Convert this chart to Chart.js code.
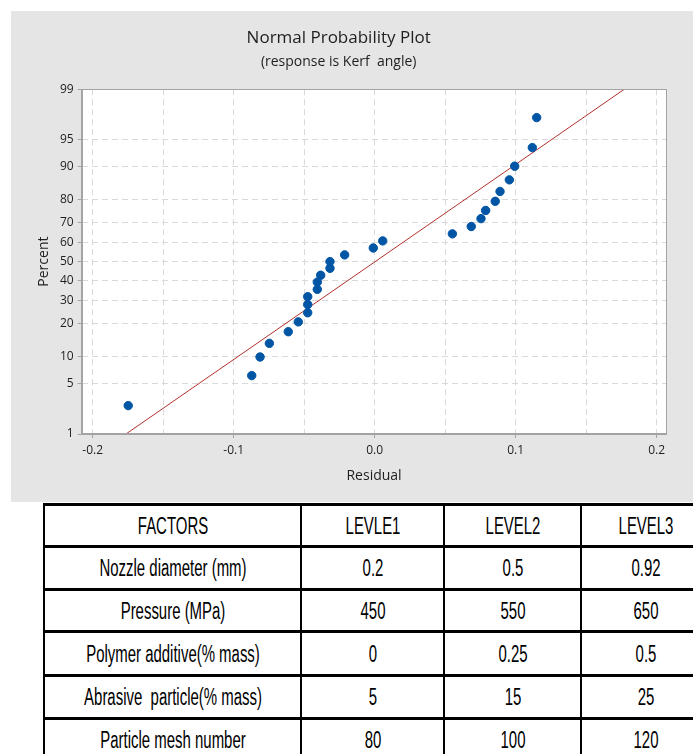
<!DOCTYPE html>
<html>
<head>
<meta charset="utf-8">
<script src="https://cdn.jsdelivr.net/npm/chart.js@4.4.0/dist/chart.umd.min.js"></script>
<style>
    html, body { margin: 0; padding: 0; background: #fff; width: 693px; height: 754px; overflow: hidden; }
    #panel { position: absolute; left: 11px; top: 11px; width: 682px; height: 491px; background: #e5e5e5; }
    #panel canvas { display: block; }
    #factorTable { position: absolute; left: 43px; top: 503px; width: 658px; border-collapse: collapse; table-layout: fixed; }
    #factorTable td {
        position: relative;
        border-left: 2px solid #000;
        border-right: 2px solid #000;
        border-top: 3px solid #000;
        border-bottom: 3px solid #000;
        padding: 0;
        font-family: "Liberation Sans", Arial, sans-serif;
        font-size: 23px;
        color: #000;
    }
    #factorTable td span {
        position: absolute;
        left: 50%;
        top: 50%;
        white-space: pre;
        transform: translate(-50%, -50%) scaleX(0.65);
    }
</style>
</head>
<body>
<div id="panel"><canvas id="probPlot" width="682" height="491"></canvas></div>
<table id="factorTable"></table>
<script>
// Normal probability plot of residuals (response is Kerf angle)
const residuals = [-0.1748, -0.0872, -0.0813, -0.0747, -0.0613, -0.0542, -0.0475, -0.0475, -0.0475,
    -0.0407, -0.0407, -0.0383, -0.0317, -0.0317, -0.0213, -0.0010, 0.0057, 0.0551,
    0.0685, 0.0754, 0.0787, 0.0855, 0.0889, 0.0955, 0.0993, 0.1118, 0.1149];
const percents = [2.6, 6.2, 9.9, 13.5, 17.2, 20.8, 24.5, 28.1, 31.8,
    35.4, 39.1, 42.7, 46.4, 50.0, 53.6, 57.3, 61.0, 64.6,
    68.2, 71.9, 75.5, 79.2, 82.8, 86.5, 90.1, 93.8, 97.4];

// fitted normal line, read at its two ends
const fitResiduals = [-0.1764, 0.1771];
const fitPercents = [1, 99];

const xTicks = [-0.2, -0.15, -0.1, -0.05, 0, 0.05, 0.1, 0.15, 0.2];
const xTickLabels = ['-0.2', '', '-0.1', '', '0.0', '', '0.1', '', '0.2'];
const yTickPercents = [1, 5, 10, 20, 30, 40, 50, 60, 70, 80, 90, 95, 99];

// table below the plot
const factors = ['Nozzle diameter (mm)', 'Pressure (MPa)', 'Polymer additive(% mass)', 'Abrasive  particle(% mass)', 'Particle mesh number'];
const level1 = ['0.2', '450', '0', '5', '80'];
const level2 = ['0.5', '550', '0.25', '15', '100'];
const level3 = ['0.92', '650', '0.5', '25', '120'];
const headers = ['FACTORS', 'LEVLE1', 'LEVEL2', 'LEVEL3'];

// inverse normal CDF (Acklam), used to put percents on a probability axis
function probit(p) {
    const a = [-3.969683028665376e+01, 2.209460984245205e+02, -2.759285104469687e+02, 1.383577518672690e+02, -3.066479806614716e+01, 2.506628277459239e+00];
    const b = [-5.447609879822406e+01, 1.615858368580409e+02, -1.556989798598866e+02, 6.680131188771972e+01, -1.328068155288572e+01];
    const c = [-7.784894002430293e-03, -3.223964580411365e-01, -2.400758277161838e+00, -2.549732539343734e+00, 4.374664141464968e+00, 2.938163982698783e+00];
    const d = [7.784695709041462e-03, 3.224671290700398e-01, 2.445134137142996e+00, 3.754408661907416e+00];
    const pl = 0.02425;
    let q, r;
    if (p < pl) {
        q = Math.sqrt(-2 * Math.log(p));
        return (((((c[0] * q + c[1]) * q + c[2]) * q + c[3]) * q + c[4]) * q + c[5]) /
            ((((d[0] * q + d[1]) * q + d[2]) * q + d[3]) * q + 1);
    }
    if (p > 1 - pl) {
        q = Math.sqrt(-2 * Math.log(1 - p));
        return -(((((c[0] * q + c[1]) * q + c[2]) * q + c[3]) * q + c[4]) * q + c[5]) /
            ((((d[0] * q + d[1]) * q + d[2]) * q + d[3]) * q + 1);
    }
    q = p - 0.5;
    r = q * q;
    return (((((a[0] * r + a[1]) * r + a[2]) * r + a[3]) * r + a[4]) * r + a[5]) * q /
        (((((b[0] * r + b[1]) * r + b[2]) * r + b[3]) * r + b[4]) * r + 1);
}

const FRAME = '#a3a3a3';
const TEXT = '#1e1e1e';

// white plot area and closed frame
const framePlugin = {
    id: 'frame',
    beforeDraw(chart) {
        const { ctx, chartArea: a } = chart;
        ctx.save();
        ctx.fillStyle = '#fff';
        ctx.fillRect(a.left, a.top, a.right - a.left, a.bottom - a.top);
        ctx.restore();
    },
    afterDraw(chart) {
        const { ctx, chartArea: a } = chart;
        ctx.save();
        ctx.strokeStyle = FRAME;
        ctx.lineWidth = 1;
        ctx.strokeRect(Math.round(a.left) + 0.5, Math.round(a.top) + 0.5,
            Math.round(a.right - a.left) - 1, Math.round(a.bottom - a.top) - 1);
        ctx.restore();
    }
};

new Chart(document.getElementById('probPlot'), {
    type: 'scatter',
    data: {
        datasets: [{
            label: 'Residuals',
            data: residuals.map((r, i) => ({ x: r, y: probit(percents[i] / 100) })),
            backgroundColor: '#0055a5',
            borderColor: '#0055a5',
            pointRadius: 4.2,
            pointHoverRadius: 4.2,
            order: 1
        }, {
            label: 'Fit',
            data: fitResiduals.map((r, i) => ({ x: r, y: probit(fitPercents[i] / 100) })),
            showLine: true,
            borderColor: '#b3302e',
            borderWidth: 1,
            pointRadius: 0,
            order: 2
        }]
    },
    options: {
        responsive: false,
        animation: false,
        devicePixelRatio: 1,
        layout: {
            padding: { left: 0, right: 26.6, top: 0, bottom: 0 }
        },
        plugins: {
            legend: { display: false },
            tooltip: { enabled: false },
            title: {
                display: true,
                text: 'Normal Probability Plot',
                color: TEXT,
                font: { family: 'Open Sans', size: 17, weight: 'normal' },
                padding: { top: 17, bottom: 2 }
            },
            subtitle: {
                display: true,
                text: '(response is Kerf  angle)',
                color: TEXT,
                font: { family: 'Open Sans', size: 14, weight: 'normal' },
                padding: { top: 3, bottom: 19 }
            }
        },
        scales: {
            x: {
                type: 'linear',
                min: -0.2078,
                max: 0.2069,
                afterBuildTicks: function (scale) {
                    scale.ticks = xTicks.map(v => ({ value: v }));
                },
                afterFit: function (scale) {
                    scale.height = 68;
                },
                ticks: {
                    autoSkip: false,
                    maxRotation: 0,
                    padding: 5,
                    color: TEXT,
                    font: { family: 'Open Sans', size: 12 },
                    callback: function (value, index) {
                        return xTickLabels[index];
                    }
                },
                grid: {
                    color: '#d9d9d9',
                    tickLength: 4,
                    tickColor: function (context) {
                        return xTickLabels[context.index] ? FRAME : 'rgba(0,0,0,0)';
                    }
                },
                border: { display: true, color: FRAME, dash: [6, 4] },
                title: {
                    display: true,
                    text: 'Residual',
                    color: TEXT,
                    font: { family: 'Open Sans', size: 14 },
                    padding: { top: 0, bottom: 17.6 }
                }
            },
            y: {
                type: 'linear',
                min: probit(0.01),
                max: probit(0.99),
                afterBuildTicks: function (scale) {
                    scale.ticks = yTickPercents.map(p => ({ value: probit(p / 100) }));
                },
                afterFit: function (scale) {
                    scale.width = 70.7;
                },
                ticks: {
                    autoSkip: false,
                    padding: 4,
                    color: TEXT,
                    font: { family: 'Open Sans', size: 12 },
                    callback: function (value, index) {
                        return String(yTickPercents[index]);
                    }
                },
                grid: {
                    color: '#d9d9d9',
                    tickLength: 4,
                    tickColor: FRAME
                },
                border: { display: true, color: FRAME, dash: [6, 4] },
                title: {
                    display: true,
                    text: 'Percent',
                    color: TEXT,
                    font: { family: 'Open Sans', size: 14 },
                    padding: { top: 24.6, bottom: 0 }
                }
            }
        }
    },
    plugins: [framePlugin]
});

// factor levels table
const colWidths = [255, 141, 135, 127];
const rowHeights = [39, 40, 39, 41, 40, 40];
const table = document.getElementById('factorTable');
const rows = [headers].concat(factors.map((f, i) => [f, level1[i], level2[i], level3[i]]));
rows.forEach(function (cells, r) {
    const tr = document.createElement('tr');
    cells.forEach(function (text, c) {
        const td = document.createElement('td');
        td.style.width = colWidths[c] + 'px';
        td.style.height = rowHeights[r] + 'px';
        const span = document.createElement('span');
        span.textContent = text;
        td.appendChild(span);
        tr.appendChild(td);
    });
    table.appendChild(tr);
});
</script>
</body>
</html>
